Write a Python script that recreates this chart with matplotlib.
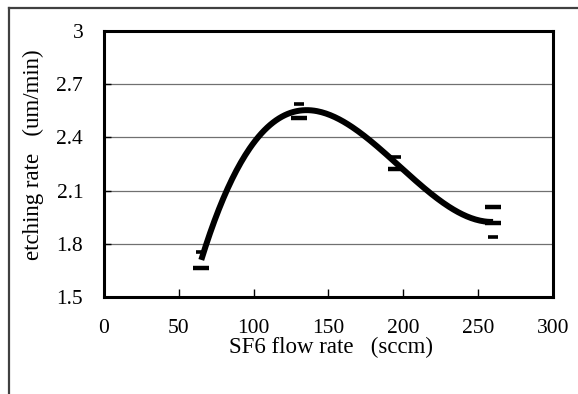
import numpy as np
import matplotlib
matplotlib.use("Agg")
import matplotlib.pyplot as plt
from matplotlib.lines import Line2D

# flow rates (sccm) and the measured etching rates (um/min)
flow = [65, 130, 195, 260]
big_x = [65, 130, 195, 260, 260]
big_y = [1.664, 2.51, 2.222, 2.01, 1.92]
small_x = [65, 130, 195, 260]
small_y = [1.754, 2.59, 2.29, 1.84]

x_ticks = [0, 50, 100, 150, 200, 250, 300]
y_ticks = [1.5, 1.8, 2.1, 2.4, 2.7, 3.0]
y_labels = ["1.5", "1.8", "2.1", "2.4", "2.7", "3"]

plt.rcParams['font.family'] = ['Liberation Serif', 'DejaVu Serif']

fig = plt.figure(figsize=(5.78, 3.94), dpi=100)
ax = fig.add_axes([0.1799, 0.2462, 0.7768, 0.6751])

# 3rd order trendline through all measurements
all_x = big_x + small_x
all_y = big_y + small_y
coef = np.polyfit(all_x, all_y, 3)
xs = np.linspace(flow[0], flow[-1], 200)
ax.plot(xs, np.polyval(coef, xs), color='black', lw=4.3, solid_capstyle='butt', zorder=3)

ax.plot(big_x, big_y, ls='none', marker='_', ms=11, mew=3.2, color='black', zorder=4)
ax.plot(small_x, small_y, ls='none', marker='_', ms=7.5, mew=2.6, color='black', zorder=4)

ax.set_xlim(0, 300)
ax.set_ylim(1.5, 3.0)
ax.set_xticks(x_ticks)
ax.set_yticks(y_ticks)
ax.set_yticklabels(y_labels)
ax.yaxis.grid(True, color='#707070', lw=0.9)
ax.set_axisbelow(True)
for s in ax.spines.values():
    s.set_linewidth(2.2)
    s.set_color('black')
ax.tick_params(axis='x', direction='in', length=6, width=1, pad=16, labelsize=15.5)
ax.tick_params(axis='y', direction='in', length=5, width=1, pad=15, labelsize=15.5)

ax.set_xlabel("SF6 flow rate   (sccm)", fontsize=16.5)
ax.xaxis.label.set_va('center')
ax.xaxis.set_label_coords(0.505, -0.19)
ax.set_ylabel("etching rate   (um/min)", fontsize=16.5)
ax.yaxis.label.set_va('center')
ax.yaxis.set_label_coords(-0.158, 0.534)

# outer frame lines of the original sheet
fig.add_artist(Line2D([9 / 578, 9 / 578], [0, 1 - 8 / 394], color='#404040', lw=1.6))
fig.add_artist(Line2D([9 / 578, 577 / 578], [1 - 8 / 394, 1 - 8 / 394], color='#404040', lw=1.6))

fig.savefig("out.png", dpi=100)
